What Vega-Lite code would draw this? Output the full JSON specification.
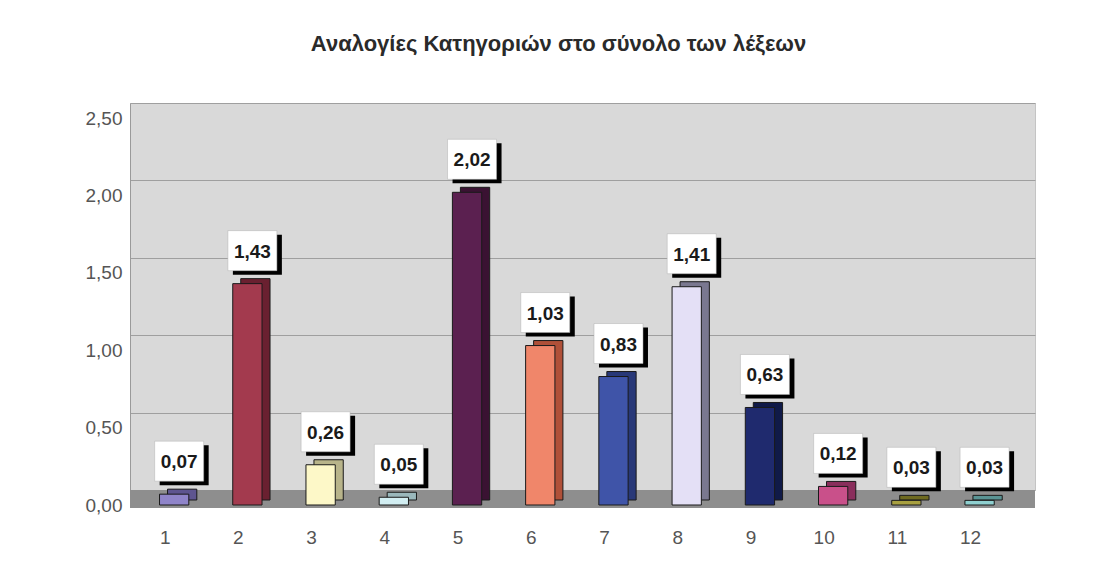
{
  "$schema": "https://vega.github.io/schema/vega-lite/v6.json",
  "width": 905,
  "height": 387,
  "autosize": "none",
  "padding": {"left": 130, "top": 103, "right": 58, "bottom": 84},
  "background": "white",
  "title": {
    "text": "Αναλογίες Κατηγοριών στο σύνολο των λέξεων",
    "font": "Liberation Sans",
    "fontSize": 22,
    "fontWeight": "bold",
    "color": "#2a2a2a",
    "anchor": "middle",
    "dx": -24,
    "offset": 47
  },
  "config": {
    "locale": {"number": {"decimal": ",", "thousands": ".", "grouping": [3], "currency": ["", " €"]}},
    "view": {"fill": "#d9d9d9", "stroke": "#c4c4c4"},
    "font": "Liberation Sans"
  },
  "data": {
    "values": [
      {"cat": 1, "value": 0.07},
      {"cat": 2, "value": 1.43},
      {"cat": 3, "value": 0.26},
      {"cat": 4, "value": 0.05},
      {"cat": 5, "value": 2.02},
      {"cat": 6, "value": 1.03},
      {"cat": 7, "value": 0.83},
      {"cat": 8, "value": 1.41},
      {"cat": 9, "value": 0.63},
      {"cat": 10, "value": 0.12},
      {"cat": 11, "value": 0.03},
      {"cat": 12, "value": 0.03}
    ]
  },
  "encoding": {
    "x": {
      "field": "cat",
      "type": "ordinal",
      "scale": {"paddingInner": 0.6, "paddingOuter": 0.48, "align": 0.42},
      "axis": {
        "title": null,
        "labelAngle": 0,
        "labelFontSize": 19,
        "labelColor": "#555555",
        "labelPadding": 38,
        "labelOffset": -9,
        "ticks": false,
        "domain": false,
        "grid": false
      }
    },
    "y": {
      "field": "value",
      "type": "quantitative",
      "scale": {"domain": [0, 2.5], "nice": false, "zero": true},
      "axis": {
        "title": null,
        "values": [0, 0.5, 1, 1.5, 2, 2.5],
        "format": ".2f",
        "grid": true,
        "gridColor": "#9f9f9f",
        "gridWidth": 1,
        "ticks": false,
        "domainColor": "#9a9a9a",
        "labelFontSize": 19,
        "labelColor": "#555555",
        "labelPadding": 8,
        "labelOffset": 15
      }
    }
  },
  "layer": [
    {
      "mark": {"type": "rule", "color": "#8e8e8e", "strokeWidth": 18, "yOffset": 9},
      "encoding": {"y": {"datum": 0}, "x": null}
    },
    {
      "mark": {"type": "bar", "xOffset": 8, "x2Offset": 8, "yOffset": 10, "y2Offset": 10, "stroke": "#1a1a1a", "strokeWidth": 1},
      "encoding": {
        "fill": {
          "field": "cat",
          "type": "ordinal",
          "legend": null,
          "scale": {
            "domain": [1, 2, 3, 4, 5, 6, 7, 8, 9, 10, 11, 12],
            "range": ["#5e5590", "#6a2030", "#b8b48a", "#9ab8bc", "#3a1232", "#b05038", "#283878", "#7a7890", "#101a48", "#8a2e5c", "#6e6a20", "#5a9494"]
          }
        }
      }
    },
    {
      "mark": {"type": "bar", "yOffset": 15, "y2Offset": 15, "stroke": "#1a1a1a", "strokeWidth": 1},
      "encoding": {
        "color": {
          "field": "cat",
          "type": "ordinal",
          "legend": null,
          "scale": {
            "domain": [1, 2, 3, 4, 5, 6, 7, 8, 9, 10, 11, 12],
            "range": ["#8f84c9", "#a33a4e", "#fdf8c8", "#d2eef2", "#5b2050", "#f0866a", "#3f54a8", "#e4e0f6", "#1f2a6e", "#c9508a", "#a8a040", "#8fd0d0"]
          }
        }
      }
    },
    {
      "mark": {"type": "point", "shape": "M-1.225,-1H1.225V1H-1.225Z", "size": 1600, "filled": true, "fill": "#000000", "opacity": 1, "xOffset": 10, "yOffset": -14}
    },
    {
      "mark": {"type": "point", "shape": "M-1.225,-1H1.225V1H-1.225Z", "size": 1600, "filled": true, "fill": "#ffffff", "stroke": "#b0b0b0", "strokeWidth": 0.5, "opacity": 1, "xOffset": 5, "yOffset": -18}
    },
    {
      "mark": {"type": "text", "font": "Liberation Sans", "fontWeight": "bold", "fontSize": 19, "color": "#1a1a1a", "align": "center", "baseline": "middle", "xOffset": 5, "yOffset": -17},
      "encoding": {"text": {"field": "value", "type": "quantitative", "format": ".2f"}}
    }
  ]
}
